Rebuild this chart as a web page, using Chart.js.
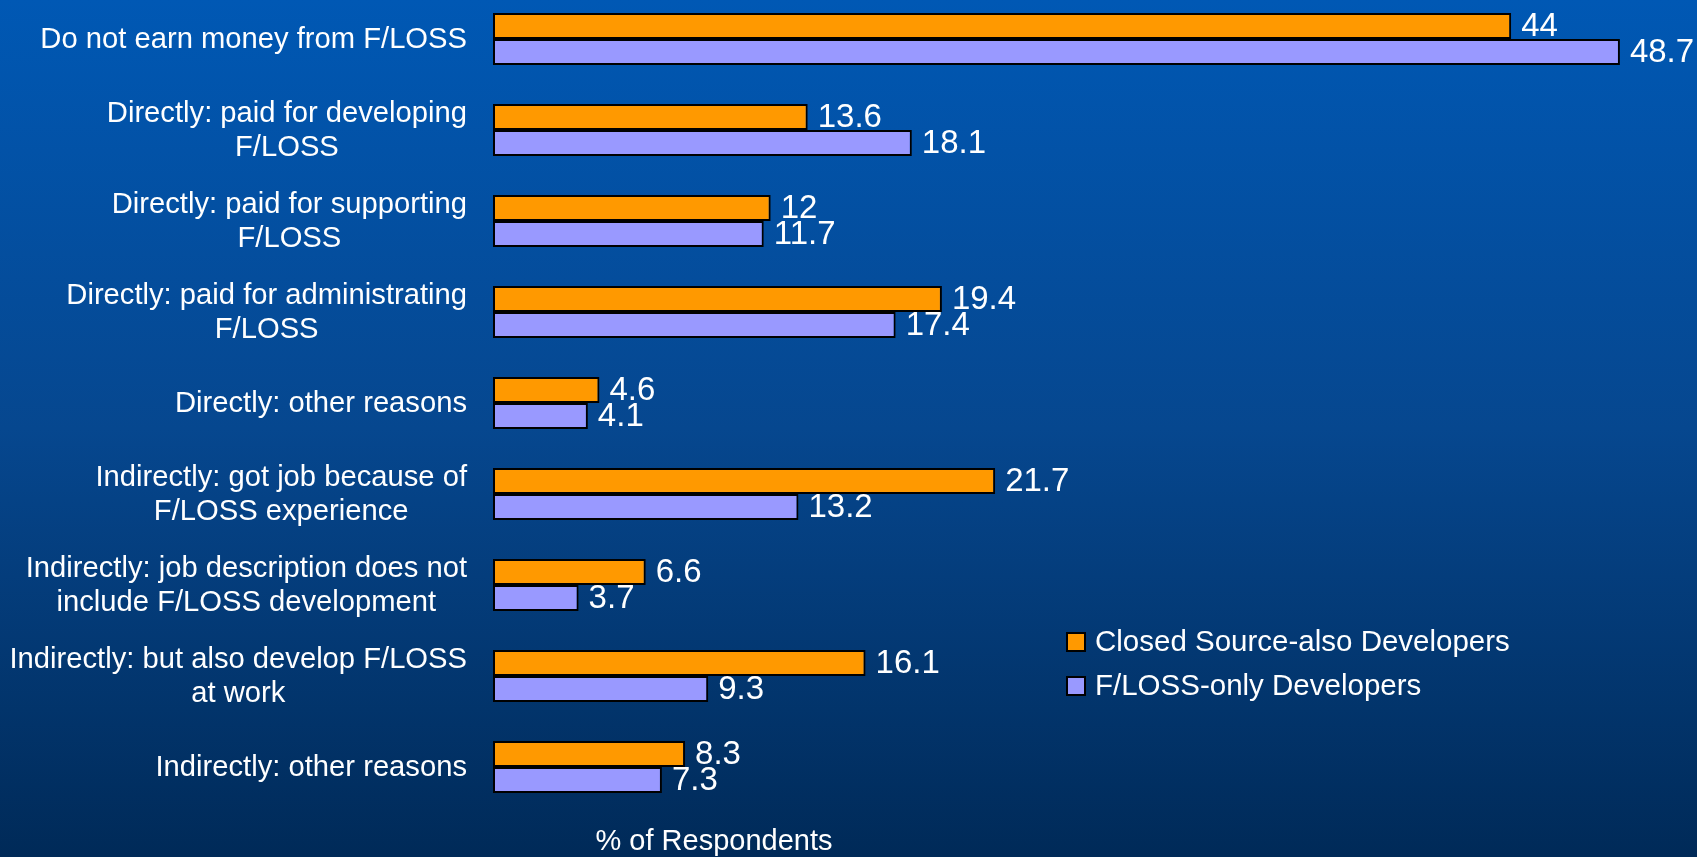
<!DOCTYPE html>
<html>
<head>
<meta charset="utf-8">
<script src="https://cdn.jsdelivr.net/npm/chart.js@4/dist/chart.umd.min.js"></script>
<style>
  html, body { margin: 0; padding: 0; }
  body {
    width: 1697px; height: 857px; overflow: hidden; position: relative;
    background: linear-gradient(to bottom, #0058b4 0%, #06478f 50%, #002a58 100%);
  }
  #wrap { position: absolute; left: 0; top: -8px; width: 1697px; height: 870px; }
</style>
</head>
<body>
<div id="wrap"><canvas id="myChart"></canvas></div>
<script>
// chart data
var categories = [
  ['Do not earn money from F/LOSS'],
  ['Directly: paid for developing', 'F/LOSS'],
  ['Directly: paid for supporting', 'F/LOSS'],
  ['Directly: paid for administrating', 'F/LOSS'],
  ['Directly: other reasons'],
  ['Indirectly: got job because of', 'F/LOSS experience'],
  ['Indirectly: job description does not', 'include F/LOSS development'],
  ['Indirectly: but also develop F/LOSS', 'at work'],
  ['Indirectly: other reasons']
];
var seriesNames = ['Closed Source-also Developers', 'F/LOSS-only Developers'];
var closedSource = [44, 13.6, 12, 19.4, 4.6, 21.7, 6.6, 16.1, 8.3];
var flossOnly = [48.7, 18.1, 11.7, 17.4, 4.1, 13.2, 3.7, 9.3, 7.3];
var axisTitle = '% of Respondents';

var FONT = "'Liberation Sans', Arial, sans-serif";
var OFFSET = 8; // canvas sits 8px above the page top
Chart.defaults.font.family = FONT;
Chart.defaults.color = '#fff';

// draws category labels (lines centred, block right aligned), value labels, legend and axis title
var textPlugin = {
  id: 'textPlugin',
  afterDatasetsDraw: function(chart) {
    var ctx = chart.ctx;
    var area = chart.chartArea;
    var yScale = chart.scales.y;
    ctx.save();
    ctx.fillStyle = '#fff';
    ctx.textBaseline = 'middle';

    // category labels
    ctx.font = '29.2px ' + FONT;
    ctx.textAlign = 'center';
    var right = area.left - 26;
    var lh = 34.6;
    categories.forEach(function(lines, i) {
      var y = yScale.getPixelForValue(i);
      var w = 0;
      lines.forEach(function(l) { w = Math.max(w, ctx.measureText(l).width); });
      var cx = right - w / 2;
      var y0 = y - (lines.length - 1) * lh / 2;
      lines.forEach(function(l, k) { ctx.fillText(l, cx, y0 + k * lh + 1); });
    });

    // value labels
    ctx.font = '33px ' + FONT;
    ctx.textAlign = 'left';
    chart.data.datasets.forEach(function(ds, di) {
      chart.getDatasetMeta(di).data.forEach(function(bar, i) {
        ctx.fillText(String(ds.data[i]), bar.x + 10, bar.y + 1);
      });
    });

    // legend
    ctx.font = '29.5px ' + FONT;
    var lx = 1067, ly = [642 + OFFSET, 686 + OFFSET];
    chart.data.datasets.forEach(function(ds, di) {
      ctx.fillStyle = ds.backgroundColor;
      ctx.fillRect(lx, ly[di] - 9, 18, 18);
      ctx.strokeStyle = '#000';
      ctx.lineWidth = 2;
      ctx.strokeRect(lx, ly[di] - 9, 18, 18);
      ctx.fillStyle = '#fff';
      ctx.fillText(ds.label, lx + 28, ly[di] + 1);
    });

    // axis title
    ctx.font = '29px ' + FONT;
    ctx.textAlign = 'center';
    ctx.fillText(axisTitle, 714, 842 + OFFSET);
    ctx.restore();
  }
};

var ctx = document.getElementById('myChart').getContext('2d');
var myBarChart = new Chart(ctx, {
  type: 'bar',
  data: {
    labels: categories.map(function(c) { return c.join(' '); }),
    datasets: [
      {
        label: seriesNames[0],
        data: closedSource,
        backgroundColor: '#ff9900',
        borderColor: '#000',
        borderWidth: 2,
        borderSkipped: false
      },
      {
        label: seriesNames[1],
        data: flossOnly,
        backgroundColor: '#9999ff',
        borderColor: '#000',
        borderWidth: 2,
        borderSkipped: false
      }
    ]
  },
  options: {
    indexAxis: 'y',
    responsive: true,
    maintainAspectRatio: false,
    animation: false,
    layout: { padding: { top: 1.5, bottom: 49.5, left: 0, right: 47 } },
    datasets: { bar: { categoryPercentage: 0.571, barPercentage: 1 } },
    plugins: {
      legend: { display: false },
      tooltip: { enabled: false }
    },
    scales: {
      x: { display: false, min: 0, max: 50 },
      y: {
        grid: { display: false },
        border: { display: false },
        ticks: { display: false },
        afterFit: function(scale) { scale.width = 493; }
      }
    }
  },
  plugins: [textPlugin]
});
</script>
</body>
</html>
